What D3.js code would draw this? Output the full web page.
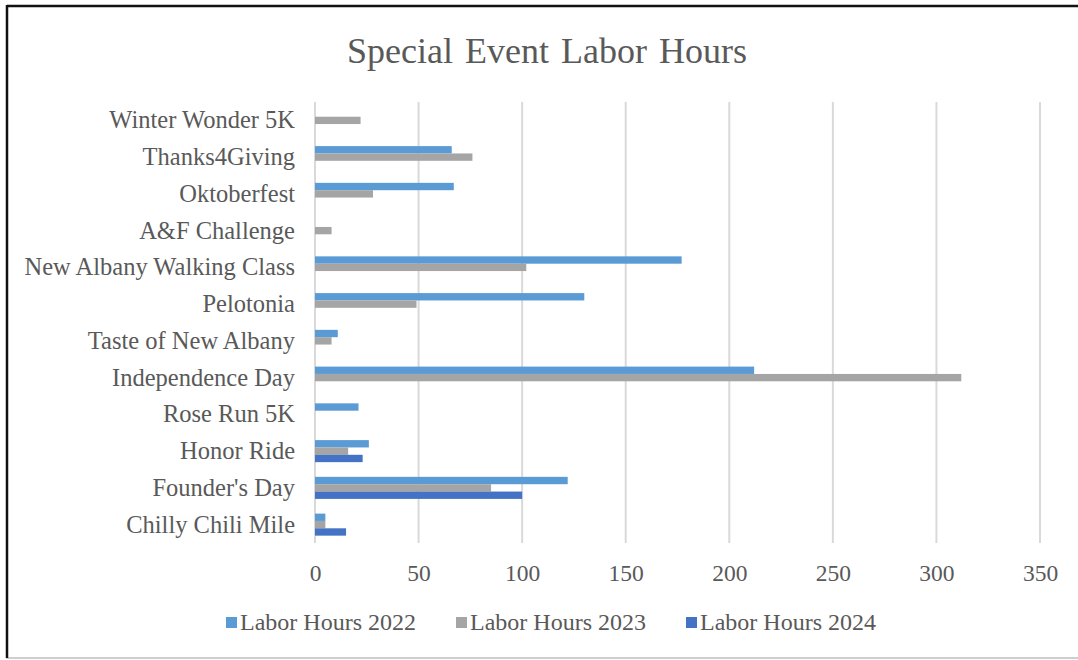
<!DOCTYPE html>
<html>
<head>
<meta charset="utf-8">
<script src="https://cdn.jsdelivr.net/npm/d3@7"></script>
<style>
  html, body { margin: 0; padding: 0; background: #fff; }
  svg { display: block; }
  text { font-family: "Liberation Serif", "Times New Roman", serif; fill: #595959; }
</style>
</head>
<body>
<svg id="chart" width="1078" height="660"></svg>
<script>
const categories = ["Chilly Chili Mile", "Founder's Day", "Honor Ride", "Rose Run 5K", "Independence Day",
  "Taste of New Albany", "Pelotonia", "New Albany Walking Class", "A&F Challenge", "Oktoberfest",
  "Thanks4Giving ", "Winter Wonder 5K"];
const seriesNames = ["Labor Hours 2022", "Labor Hours 2023", "Labor Hours 2024"];
const hours2022 = [5, 122, 26, 21, 212, 11, 130, 177, 0, 67, 66, 0];
const hours2023 = [5, 85, 16, 0, 312, 8, 49, 102, 8, 28, 76, 22];
const hours2024 = [15, 100, 23, 0, 0, 0, 0, 0, 0, 0, 0, 0];
const xTicks = [0, 50, 100, 150, 200, 250, 300, 350];
const colors = ["#5B9BD5", "#A5A5A5", "#4472C4"];

const seriesValues = [hours2022, hours2023, hours2024];
const svg = d3.select("#chart");

// frame
svg.append("rect").attr("x", 7).attr("y", 6).attr("width", 1100).attr("height", 652)
  .attr("fill", "none").attr("stroke", "#bfbfbf").attr("stroke-width", 1.5);
svg.append("line").attr("x1", 7).attr("x2", 1078).attr("y1", 6).attr("y2", 6)
  .attr("stroke", "#111").attr("stroke-width", 2.5);
svg.append("line").attr("x1", 7).attr("x2", 7).attr("y1", 5).attr("y2", 658)
  .attr("stroke", "#111").attr("stroke-width", 2.5);

const plot = { left: 315, right: 1040, top: 102, bottom: 543 };

const x = d3.scaleLinear().domain([0, 350]).range([plot.left, plot.right]);
// categories: first at bottom
const y = d3.scaleBand().domain(categories.slice().reverse())
  .range([plot.top, plot.bottom]).paddingInner(0.4).paddingOuter(0.2);
const ySub = d3.scaleBand().domain(seriesNames).range([0, y.bandwidth()]).padding(0);

// title
svg.append("text").attr("x", 547).attr("y", 63).attr("text-anchor", "middle")
  .style("font-size", "36px").style("word-spacing", "3px").text("Special Event Labor Hours");

// gridlines
svg.append("g").selectAll("line").data(xTicks).join("line")
  .attr("x1", d => x(d)).attr("x2", d => x(d))
  .attr("y1", plot.top).attr("y2", plot.bottom)
  .attr("stroke", "#D9D9D9").attr("stroke-width", 2);

// x axis labels
const xAxis = d3.axisBottom(x).tickValues(xTicks).tickSize(0).tickPadding(0).tickFormat(d3.format("d"));
const gx = svg.append("g").attr("transform", `translate(0,${plot.bottom + 38})`).call(xAxis);
gx.select(".domain").remove();
gx.selectAll("text").attr("dy", 0).style("font-size", "23.5px")
  .style("font-family", "'Liberation Serif', serif").attr("fill", "#595959");

// y axis labels
const yAxis = d3.axisLeft(y).tickSize(0).tickPadding(0);
const gy = svg.append("g").attr("transform", `translate(${plot.left - 20},0)`).call(yAxis);
gy.select(".domain").remove();
gy.selectAll("text").attr("dy", "0.33em").style("font-size", "24.5px")
  .style("font-family", "'Liberation Serif', serif").attr("fill", "#595959");

// bars
seriesNames.forEach((s, si) => {
  svg.append("g").selectAll("rect").data(categories.map((c, i) => ({ c, v: seriesValues[si][i] })))
    .join("rect")
    .attr("x", x(0))
    .attr("y", d => y(d.c) + ySub(s))
    .attr("width", d => x(d.v) - x(0))
    .attr("height", ySub.bandwidth())
    .attr("fill", colors[si]);
});

// legend
const legendX = [226, 456, 686];
const legend = svg.append("g");
seriesNames.forEach((s, i) => {
  legend.append("rect").attr("x", legendX[i]).attr("y", 617).attr("width", 11).attr("height", 11)
    .attr("fill", colors[i]);
  legend.append("text").attr("x", legendX[i] + 14).attr("y", 630)
    .style("font-size", "24px").text(s);
});
</script>
</body>
</html>
